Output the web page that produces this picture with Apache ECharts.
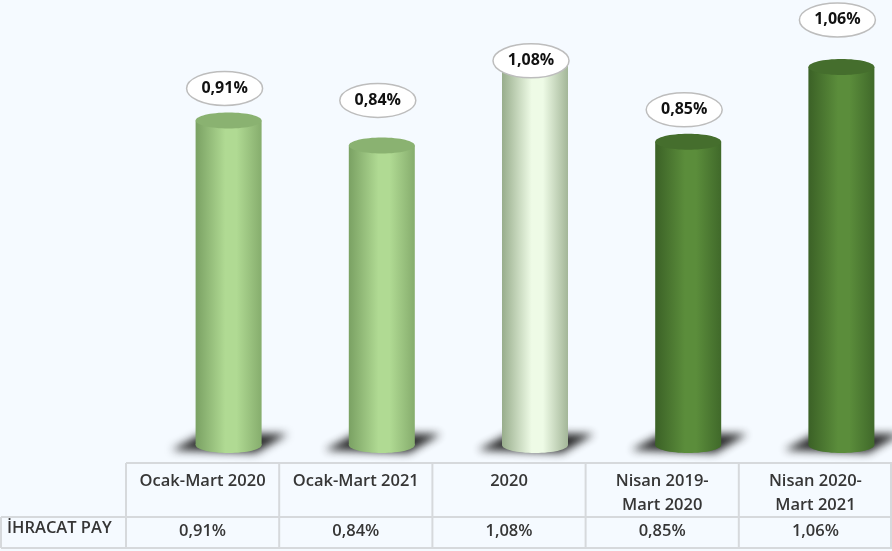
<!DOCTYPE html>
<html>
<head>
<meta charset="utf-8">
<script src="https://cdn.jsdelivr.net/npm/echarts@6/dist/echarts.min.js"></script>
<style>
  html, body { margin: 0; padding: 0; background: #f5faff; }
  #chart { width: 892px; height: 551px; }
</style>
</head>
<body>
<div id="chart"></div>
<script>
// data
const categories = ['Ocak-Mart 2020', 'Ocak-Mart 2021', '2020', 'Nisan 2019-\nMart 2020', 'Nisan 2020-\nMart 2021'];
const values = [0.91, 0.84, 1.08, 0.85, 1.06];
const rowLabel = 'İHRACAT PAY';

// looks
const palettes = [
  { edgeL: '#7aa163', mid: '#b0da93', edgeR: '#86ad6d', top: '#8ab271' },
  { edgeL: '#7aa163', mid: '#b0da93', edgeR: '#86ad6d', top: '#8ab271' },
  { edgeL: '#98ad8c', mid: '#eefbe6', edgeR: '#a3b698', top: '#d7e8cc' },
  { edgeL: '#3b6126', mid: '#5b8d3b', edgeR: '#40692a', top: '#456e2d' },
  { edgeL: '#3b6126', mid: '#5b8d3b', edgeR: '#40692a', top: '#456e2d' }
];
const labelLift = [32, 45, -1, 32, 47];
const fontFam = '"Open Sans", "Noto Sans", sans-serif';
const textColor = '#363636';
const fmt = v => v.toFixed(2).replace('.', ',') + '%';

const chart = echarts.init(document.getElementById('chart'));

function renderBar(params, api) {
  const i = params.dataIndex;
  const top = api.coord([i, api.value(1)]);
  const base = api.coord([i, 0]);
  const cx = top[0] + 26;
  const rx = 33, ry = 8;
  const b = base[1];
  const p = palettes[i];
  const grad = {
    type: 'linear', global: true,
    x: cx - rx, y: 0, x2: cx + rx, y2: 0,
    colorStops: [
      { offset: 0, color: p.edgeL },
      { offset: 0.45, color: p.mid },
      { offset: 0.62, color: p.mid },
      { offset: 1, color: p.edgeR }
    ]
  };
  const ly = top[1] - labelLift[i];
  const far = 2000; // draw the shadow shape off screen, keep only its blurred shadow
  return {
    type: 'group',
    children: [
      {
        type: 'polygon',
        shape: {
          points: [
            [cx - rx - 24 - far, b + 5],
            [cx + rx - 6 - far, b + 8],
            [cx + rx + 26 - far, b - 11],
            [cx - rx + 8 - far, b - 12]
          ]
        },
        style: {
          fill: '#333', shadowBlur: 9, shadowColor: 'rgba(30,30,30,0.95)',
          shadowOffsetX: far, shadowOffsetY: 0
        }
      },
      {
        type: 'rect',
        shape: { x: cx - rx, y: top[1], width: rx * 2, height: b - top[1] },
        style: { fill: grad }
      },
      {
        type: 'ellipse',
        shape: { cx: cx, cy: b, rx: rx, ry: ry },
        style: { fill: grad }
      },
      {
        type: 'ellipse',
        shape: { cx: cx, cy: top[1], rx: rx, ry: ry },
        style: { fill: p.top }
      },
      {
        type: 'ellipse',
        shape: { cx: cx - 4, cy: ly, rx: 38, ry: 17 },
        style: { fill: '#ffffff', stroke: '#bdbdbd', lineWidth: 1.5 }
      },
      {
        type: 'text',
        x: cx - 4, y: ly,
        style: {
          text: fmt(values[i]), align: 'center', verticalAlign: 'middle',
          font: 'bold 16px ' + fontFam, fill: '#111'
        }
      }
    ]
  };
}

// table borders
const gridLeft = 126, gridBottomY = 445;
const colW = (892 - gridLeft) / categories.length;
const lineStyle = { stroke: '#d6d9dc', lineWidth: 2 };
const graphics = [
  { type: 'line', shape: { x1: gridLeft, y1: 463, x2: 892, y2: 463 }, style: lineStyle },
  { type: 'line', shape: { x1: 1, y1: 517, x2: 892, y2: 517 }, style: lineStyle },
  { type: 'line', shape: { x1: 1, y1: 548, x2: 892, y2: 548 }, style: lineStyle },
  { type: 'line', shape: { x1: 1, y1: 517, x2: 1, y2: 548 }, style: lineStyle },
  { type: 'line', shape: { x1: 891, y1: 463, x2: 891, y2: 548 }, style: lineStyle }
];
for (let k = 0; k < categories.length; k++) {
  const x = gridLeft + k * colW;
  graphics.push({ type: 'line', shape: { x1: x, y1: 463, x2: x, y2: 548 }, style: lineStyle });
}
graphics.push({
  type: 'text', left: 7, top: 520,
  style: { text: rowLabel, font: '600 16.5px ' + fontFam, fill: textColor }
});

const option = {
  backgroundColor: '#f5faff',
  animation: false,
  grid: { left: gridLeft, right: 0, top: 17, bottom: 551 - gridBottomY },
  xAxis: [
    {
      type: 'category', data: categories,
      axisLine: { show: false }, axisTick: { show: false },
      axisLabel: {
        margin: 24, verticalAlign: 'top', lineHeight: 24, interval: 0,
        fontFamily: fontFam, fontSize: 16.5, fontWeight: 600, color: textColor
      }
    },
    {
      type: 'category', data: categories, position: 'bottom',
      axisLine: { show: false }, axisTick: { show: false },
      axisLabel: {
        margin: 74, verticalAlign: 'top', lineHeight: 24, interval: 0,
        fontFamily: fontFam, fontSize: 16.5, fontWeight: 600, color: textColor,
        formatter: (v, idx) => fmt(values[idx])
      }
    }
  ],
  yAxis: { type: 'value', min: 0, max: 1.2, show: false, splitLine: { show: false } },
  series: [{
    type: 'custom',
    renderItem: renderBar,
    data: values.map((v, i) => [i, v]),
    clip: false
  }],
  graphic: graphics
};

chart.setOption(option);
</script>
</body>
</html>
